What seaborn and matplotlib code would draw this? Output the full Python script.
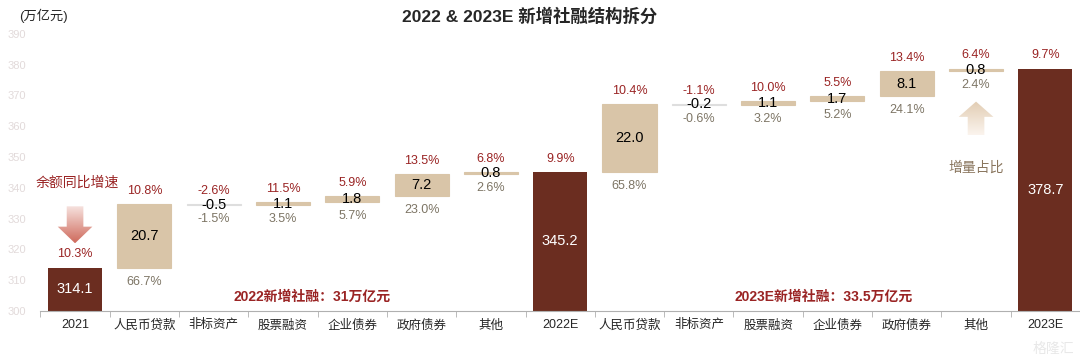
import numpy as np
import matplotlib.pyplot as plt
import seaborn as sns
from matplotlib.patches import FancyArrow
from matplotlib.colors import LinearSegmentedColormap

# 数据
categories = ["2021", "人民币贷款", "非标资产", "股票融资", "企业债券", "政府债券", "其他", "2022E",
              "人民币贷款 ", "非标资产 ", "股票融资 ", "企业债券 ", "政府债券 ", "其他 ", "2023E"]
values = [314.1, 20.7, -0.5, 1.1, 1.8, 7.2, 0.8, 345.2,
          22.0, -0.2, 1.1, 1.7, 8.1, 0.8, 378.7]
is_total = [True, False, False, False, False, False, False, True,
            False, False, False, False, False, False, True]
growth_labels = ["10.3%", "10.8%", "-2.6%", "11.5%", "5.9%", "13.5%", "6.8%", "9.9%",
                 "10.4%", "-1.1%", "10.0%", "5.5%", "13.4%", "6.4%", "9.7%"]
share_labels = ["", "66.7%", "-1.5%", "3.5%", "5.7%", "23.0%", "2.6%", "",
                "65.8%", "-0.6%", "3.2%", "5.2%", "24.1%", "2.4%", ""]
y_min, y_max = 300, 390

BROWN = "#6b2d20"
BEIGE = "#d9c5a8"
NEG = "#dedede"
RED = "#9a2424"
GRAY = "#7d7565"

# 瀑布图的底部与高度
bottoms, heights = [], []
running = 0
for v, t in zip(values, is_total):
    if t:
        bottoms.append(y_min)
        heights.append(v - y_min)
        running = v
    else:
        start = running
        running = round(running + v, 2)
        bottoms.append(min(start, running))
        heights.append(abs(v))

sns.set_style("white")
plt.rcParams['font.family'] = ['Liberation Sans', 'Noto Sans CJK SC', 'DejaVu Sans']

fig = plt.figure(figsize=(10.8, 3.6), dpi=100)
ax = fig.add_axes([0.0374, 0.136, 0.9626, 0.77])

sns.barplot(x=categories, y=heights, bottom=bottoms, color=BEIGE, width=0.78,
            saturation=1, linewidth=0, ax=ax, order=categories)

for p, v, t in zip(ax.patches, values, is_total):
    if t:
        p.set_facecolor(BROWN)
    elif v < 0:
        p.set_facecolor(NEG)
        p.set_edgecolor(NEG)
        p.set_linewidth(0.8)
    else:
        p.set_facecolor(BEIGE)
        p.set_edgecolor(BEIGE)
        p.set_linewidth(0.8)

# 标签
for i, (p, v, t) in enumerate(zip(ax.patches, values, is_total)):
    x = p.get_x() + p.get_width() / 2
    top = p.get_y() + p.get_height()
    bot = p.get_y()
    mid = (top + bot) / 2
    ax.text(x, mid, f"{v:.1f}", ha="center", va="center",
            color="white" if t else "black", fontsize=10.5)
    ax.annotate(growth_labels[i], (x, top), xytext=(0, 9.5), textcoords="offset points",
                ha="center", va="center", color=RED, fontsize=9)
    if share_labels[i]:
        ax.annotate(share_labels[i], (x, bot), xytext=(0, -10), textcoords="offset points",
                    ha="center", va="center", color=GRAY, fontsize=9)


def gradient_arrow(ax, x, y_tail, y_tip, c_tail, c_tip):
    length = y_tip - y_tail
    arr = FancyArrow(x, y_tail, 0, length, width=0.24, head_width=0.5,
                     head_length=abs(length) * 0.45, length_includes_head=True,
                     facecolor="none", edgecolor="none")
    ax.add_patch(arr)
    cmap = LinearSegmentedColormap.from_list("g", [c_tail, c_tip])
    grad = np.linspace(0, 1, 100).reshape(-1, 1)
    if y_tip < y_tail:
        grad = grad[::-1]
    lo, hi = min(y_tail, y_tip), max(y_tail, y_tip)
    im = ax.imshow(grad, cmap=cmap, aspect="auto",
                   extent=[x - 0.3, x + 0.3, lo, hi], origin="lower", zorder=3)
    im.set_clip_path(arr)


gradient_arrow(ax, 0, 334.0, 322.0, "#f6e2de", "#cf6a5c")
gradient_arrow(ax, 13, 357.0, 368.0, "#fbf4ee", "#e2cdb3")

ax.text(0.03, 341.5, "余额同比增速", ha="center", va="center", color=RED, fontsize=10)
ax.text(13, 346.5, "增量占比", ha="center", va="center", color="#8a765e", fontsize=10)
ax.text(3.42, 304.6, "2022新增社融：31万亿元", ha="center", va="center",
        color=RED, fontsize=10, fontweight="bold")
ax.text(10.8, 304.6, "2023E新增社融：33.5万亿元", ha="center", va="center",
        color=RED, fontsize=10, fontweight="bold")

ax.set_xlim(-0.5, len(categories) - 0.5)
ax.set_ylim(y_min, y_max)
ax.set_yticks(np.arange(y_min, y_max + 1, 10))
ax.tick_params(axis="y", length=0, labelsize=8, labelcolor="#e2dada", pad=10)
ax.set_xticks(np.arange(len(categories)))
ax.set_xticklabels([c.strip() for c in categories], fontsize=9)
ax.set_xticks(np.arange(len(categories) + 1) - 0.5, minor=True)
ax.tick_params(axis="x", which="major", length=0, pad=6)
ax.tick_params(axis="x", which="minor", length=4, color="#b0b0b0", bottom=True)
ax.set_xlabel("")
ax.set_ylabel("")
sns.despine(ax=ax, left=True)
ax.spines["bottom"].set_color("#b0b0b0")

fig.text(0.49, 0.955, "2022 & 2023E 新增社融结构拆分", ha="center", va="center",
         fontsize=12.5, fontweight="bold")
fig.text(0.018, 0.955, "(万亿元)", ha="left", va="center", fontsize=9.5)
fig.text(0.995, 0.03, "格隆汇", ha="right", va="center", fontsize=10, color="#e8e8e8")

fig.savefig("out.png", dpi=100)
